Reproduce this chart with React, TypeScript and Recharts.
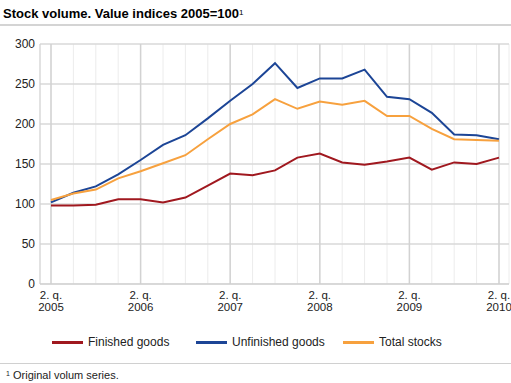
import { LineChart, Line, XAxis, YAxis, CartesianGrid, ReferenceLine } from 'recharts'

const quarters = [
  '2005-2', '2005-3', '2005-4', '2006-1',
  '2006-2', '2006-3', '2006-4', '2007-1',
  '2007-2', '2007-3', '2007-4', '2008-1',
  '2008-2', '2008-3', '2008-4', '2009-1',
  '2009-2', '2009-3', '2009-4', '2010-1',
  '2010-2',
]

const finishedGoods = [98, 98, 99, 106, 106, 102, 108, 123, 138, 136, 142, 158, 163, 152, 149, 153, 158, 143, 152, 150, 158]
const unfinishedGoods = [102, 114, 122, 137, 155, 174, 186, 207, 229, 250, 276, 245, 257, 257, 268, 234, 231, 214, 187, 186, 181]
const totalStocks = [105, 113, 118, 132, 141, 151, 161, 181, 200, 212, 231, 219, 228, 224, 229, 210, 210, 194, 181, 180, 179]

const yTicks = [0, 50, 100, 150, 200, 250, 300]
const yearTicks = ['2005-2', '2006-2', '2007-2', '2008-2', '2009-2', '2010-2']

const series = [
  { key: 'finished', name: 'Finished goods', color: '#a0181f', values: finishedGoods },
  { key: 'unfinished', name: 'Unfinished goods', color: '#1c4596', values: unfinishedGoods },
  { key: 'total', name: 'Total stocks', color: '#f7a13e', values: totalStocks },
]

const data = quarters.map((q, i) => ({
  q,
  finished: finishedGoods[i],
  unfinished: unfinishedGoods[i],
  total: totalStocks[i],
}))

const font = '"Liberation Sans", Arial, sans-serif'

function QuarterTick({ x, y, payload }: any) {
  const [year, quarter] = String(payload.value).split('-')
  if (quarter !== '2') return null
  return (
    <g>
      <text x={x} y={y + 7} textAnchor="middle" fontSize={11.5} fill="#222" fontFamily={font}>2. q.</text>
      <text x={x} y={y + 19} textAnchor="middle" fontSize={11.5} fill="#222" fontFamily={font}>{year}</text>
    </g>
  )
}

const legendLeft = [52, 196, 343]

export default function App() {
  return (
    <div style={{ position: 'absolute', left: 0, top: 0, width: 511, height: 383, background: '#fff', fontFamily: font }}>
      <div style={{ position: 'absolute', left: 3, top: 6, fontSize: 13, lineHeight: '15px', fontWeight: 'bold', color: '#000', whiteSpace: 'nowrap' }}>
        Stock volume. Value indices 2005=100<sup style={{ fontSize: 8, fontWeight: 'normal', verticalAlign: 'top', position: 'relative', top: -1 }}>1</sup>
      </div>
      <div style={{ position: 'absolute', left: 0, top: 24, width: 511, height: 2, background: '#d4d4d4' }} />
      <div style={{ position: 'absolute', left: 0, top: 0 }}>
        <LineChart width={511} height={320} data={data} margin={{ top: 44, right: 2, bottom: 0, left: 0 }}>
          <CartesianGrid stroke="#ececec" strokeWidth={1} horizontal={false} />
          <CartesianGrid stroke="#d9d9d9" strokeWidth={1.5} vertical={false} />
          {yearTicks.map((t) => (
            <ReferenceLine key={t} x={t} stroke="#d2d2d2" strokeWidth={1.5} />
          ))}
          <XAxis
            dataKey="q"
            interval={0}
            padding={{ left: 11, right: 10 }}
            tickLine={false}
            axisLine={{ stroke: '#cfcfcf' }}
            tick={<QuarterTick />}
            height={36}
          />
          <YAxis
            domain={[0, 300]}
            ticks={yTicks}
            tickLine={false}
            axisLine={{ stroke: '#cfcfcf' }}
            width={40}
            tick={{ fontSize: 12, fill: '#222', fontFamily: font }}
            tickSize={3}
            tickMargin={2}
          />
          <YAxis yAxisId="right" orientation="right" width={0} tick={false} tickLine={false} axisLine={{ stroke: '#e4e4e4' }} />
          {series.map((s) => (
            <Line
              key={s.key}
              type="linear"
              dataKey={s.key}
              name={s.name}
              stroke={s.color}
              strokeWidth={2}
              dot={false}
              isAnimationActive={false}
            />
          ))}
        </LineChart>
      </div>
      {series.map((s, i) => (
        <div key={s.key} style={{ position: 'absolute', left: legendLeft[i], top: 334, height: 16, display: 'flex', alignItems: 'center', fontSize: 12, color: '#222', whiteSpace: 'nowrap' }}>
          <span style={{ display: 'inline-block', width: 31, height: 3, background: s.color, marginRight: 5 }} />
          {s.name}
        </div>
      ))}
      <div style={{ position: 'absolute', left: 0, top: 363, width: 511, height: 1, background: '#d0d0d0' }} />
      <div style={{ position: 'absolute', left: 6, top: 369, fontSize: 11, lineHeight: '13px', color: '#222', whiteSpace: 'nowrap' }}>
        <sup style={{ fontSize: 7, verticalAlign: 'top', position: 'relative', top: -2 }}>1</sup> Original volum series.
      </div>
    </div>
  )
}
